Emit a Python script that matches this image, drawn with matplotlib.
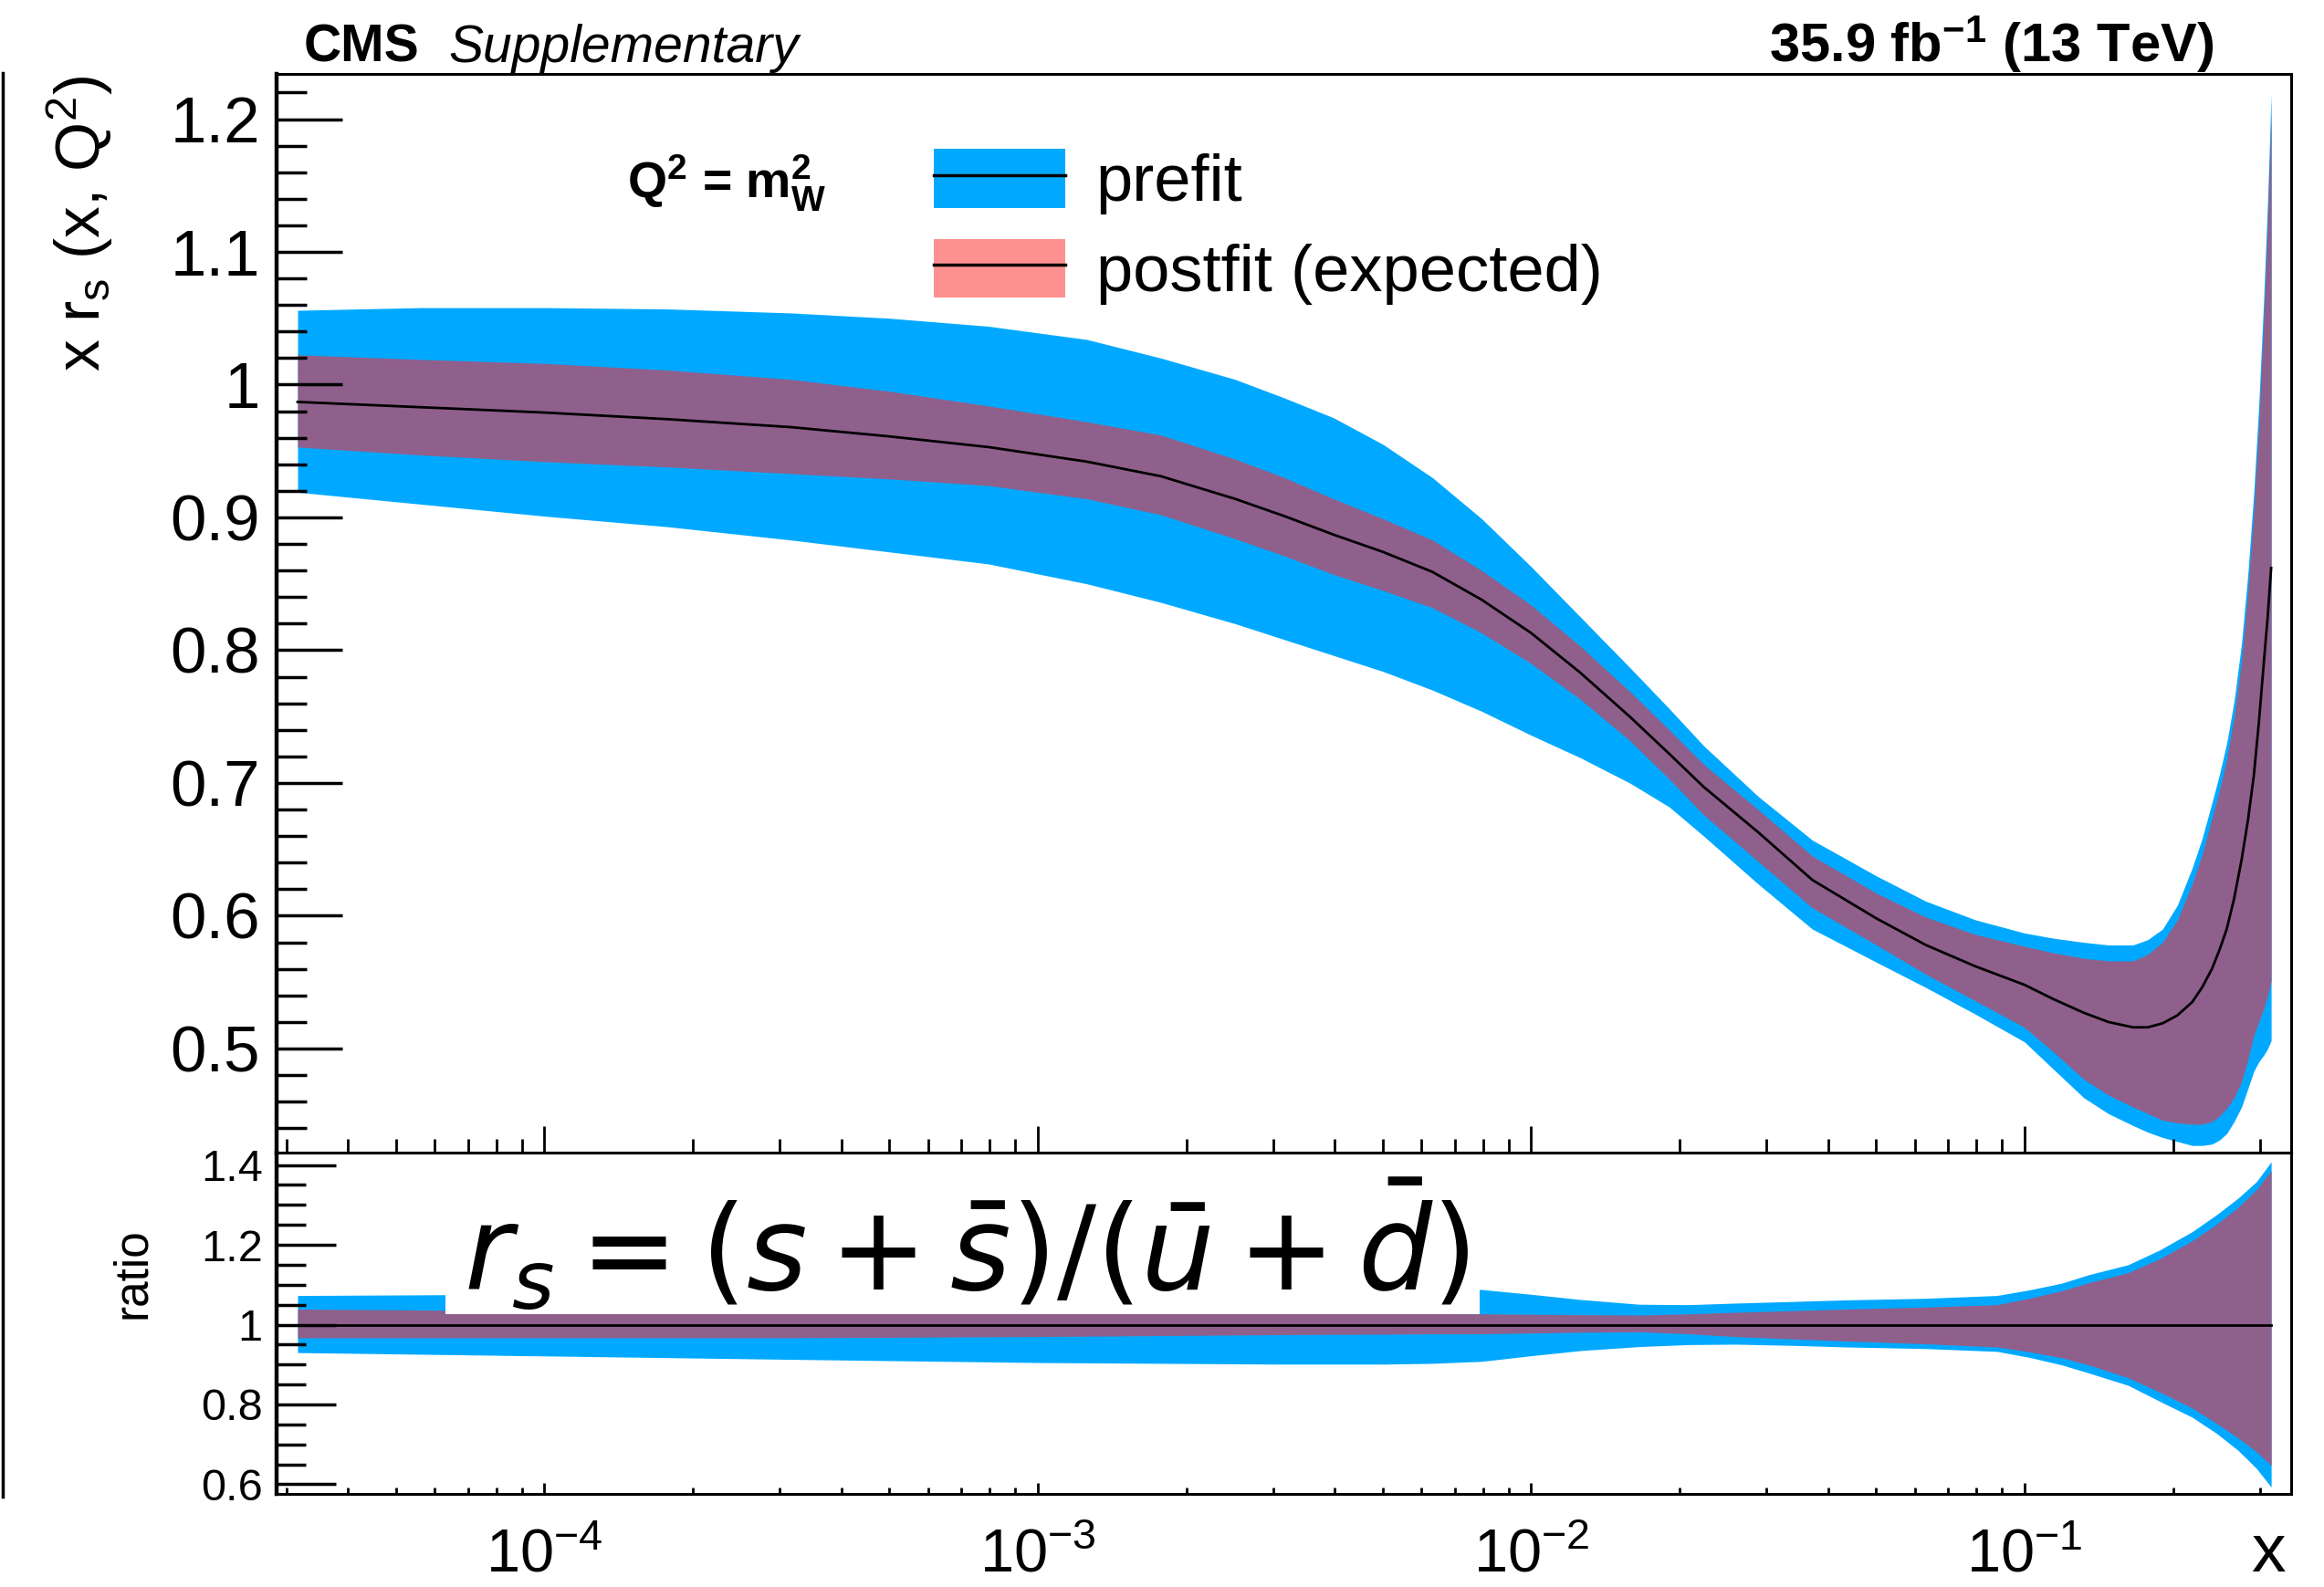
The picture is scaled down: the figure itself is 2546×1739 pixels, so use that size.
import numpy as np
import matplotlib
matplotlib.use('Agg')
import matplotlib.pyplot as plt
from matplotlib.ticker import MultipleLocator, LogLocator, NullFormatter, FuncFormatter, LogFormatterSciNotation
from matplotlib.patches import Patch, Rectangle
from matplotlib.lines import Line2D

plt.rcParams['font.family'] = ['Liberation Sans', 'DejaVu Sans']
plt.rcParams['mathtext.fontset'] = 'custom'
plt.rcParams['mathtext.rm'] = 'Liberation Sans'
plt.rcParams['mathtext.it'] = 'Liberation Sans:italic'
plt.rcParams['mathtext.bf'] = 'Liberation Sans:bold'

# upper panel: x r_s(x, Q^2) (log10 x grid)
log_x = np.array([-4.5, -4.25, -4.0, -3.75, -3.5, -3.3, -3.1, -2.9, -2.75, -2.6, -2.5, -2.4, -2.3, -2.2,
                  -2.1, -2.0, -1.9, -1.8, -1.72, -1.65, -1.54, -1.43, -1.3, -1.2, -1.1, -1.0, -0.94,
                  -0.88, -0.83, -0.78, -0.75, -0.72, -0.69, -0.66, -0.64, -0.62, -0.605, -0.59, -0.575,
                  -0.56, -0.547, -0.535, -0.525, -0.515, -0.507, -0.5])
central = np.array([0.987, 0.983, 0.979, 0.974, 0.968, 0.961, 0.953, 0.942, 0.931, 0.914, 0.901, 0.887,
                    0.874, 0.859, 0.838, 0.813, 0.783, 0.750, 0.722, 0.697, 0.663, 0.627, 0.598, 0.578,
                    0.562, 0.548, 0.537, 0.527, 0.520, 0.516, 0.516, 0.519, 0.525, 0.535, 0.546, 0.560,
                    0.574, 0.590, 0.613, 0.642, 0.672, 0.706, 0.745, 0.790, 0.825, 0.862])
prefit_hi = np.array([1.056, 1.058, 1.058, 1.057, 1.054, 1.050, 1.044, 1.034, 1.020, 1.004, 0.990, 0.975,
                      0.955, 0.930, 0.899, 0.863, 0.825, 0.787, 0.756, 0.728, 0.690, 0.657, 0.630, 0.611,
                      0.597, 0.587, 0.583, 0.580, 0.578, 0.578, 0.582, 0.590, 0.608, 0.636, 0.658, 0.685,
                      0.706, 0.730, 0.762, 0.805, 0.858, 0.920, 0.985, 1.065, 1.140, 1.219])
postfit_hi = np.array([1.0225, 1.019, 1.016, 1.011, 1.004, 0.995, 0.984, 0.972, 0.962, 0.944, 0.930, 0.914,
                       0.899, 0.883, 0.860, 0.834, 0.803, 0.769, 0.740, 0.714, 0.680, 0.645, 0.617, 0.599,
                       0.586, 0.577, 0.572, 0.568, 0.566, 0.566, 0.571, 0.580, 0.597, 0.624, 0.646, 0.673,
                       0.694, 0.718, 0.750, 0.792, 0.845, 0.906, 0.970, 1.050, 1.125, 1.205])
postfit_lo = np.array([0.953, 0.947, 0.942, 0.938, 0.933, 0.929, 0.924, 0.914, 0.902, 0.884, 0.871, 0.857,
                       0.845, 0.832, 0.813, 0.790, 0.763, 0.732, 0.703, 0.676, 0.641, 0.606, 0.578, 0.556,
                       0.536, 0.516, 0.497, 0.477, 0.465, 0.456, 0.451, 0.446, 0.444, 0.443, 0.443, 0.445,
                       0.449, 0.455, 0.463, 0.475, 0.492, 0.510, 0.520, 0.530, 0.540, 0.551])
prefit_lo = np.array([0.919, 0.910, 0.901, 0.893, 0.883, 0.874, 0.865, 0.850, 0.836, 0.820, 0.808, 0.796,
                      0.784, 0.770, 0.754, 0.736, 0.719, 0.700, 0.682, 0.660, 0.624, 0.590, 0.565, 0.546,
                      0.526, 0.505, 0.484, 0.463, 0.451, 0.442, 0.437, 0.433, 0.430, 0.427, 0.427, 0.428,
                      0.431, 0.436, 0.445, 0.456, 0.470, 0.483, 0.490, 0.495, 0.500, 0.506])

# lower panel: ratio to prefit central value
r_log_x = np.array([-4.5, -4.2, -3.5, -3.0, -2.5, -2.3, -2.2, -2.1, -2.0, -1.9, -1.78, -1.68, -1.585,
                    -1.47, -1.36, -1.2, -1.056, -0.99, -0.924, -0.87, -0.79, -0.726, -0.66, -0.61,
                    -0.567, -0.53, -0.5])
r_prefit_hi = np.array([1.073, 1.075, 1.089, 1.095, 1.097, 1.094, 1.090, 1.088, 1.076, 1.063, 1.051, 1.050,
                        1.054, 1.058, 1.062, 1.066, 1.073, 1.087, 1.104, 1.125, 1.150, 1.187, 1.233, 1.276,
                        1.317, 1.358, 1.408])
r_postfit_hi = np.array([1.039, 1.036, 1.037, 1.033, 1.030, 1.029, 1.028, 1.027, 1.026, 1.025, 1.024, 1.027,
                         1.031, 1.035, 1.039, 1.044, 1.050, 1.066, 1.085, 1.105, 1.130, 1.165, 1.210, 1.252,
                         1.294, 1.338, 1.386])
r_postfit_lo = np.array([0.967, 0.967, 0.967, 0.970, 0.975, 0.976, 0.977, 0.977, 0.979, 0.981, 0.982, 0.977,
                         0.970, 0.964, 0.959, 0.952, 0.944, 0.932, 0.917, 0.899, 0.867, 0.831, 0.791, 0.752,
                         0.716, 0.682, 0.647])
r_prefit_lo = np.array([0.930, 0.925, 0.913, 0.905, 0.901, 0.901, 0.903, 0.908, 0.922, 0.935, 0.945, 0.950,
                        0.951, 0.948, 0.944, 0.940, 0.933, 0.918, 0.899, 0.879, 0.848, 0.808, 0.768, 0.727,
                        0.685, 0.640, 0.593])
r_central = np.interp(r_log_x, log_x, central) / np.interp(r_log_x, log_x, central)

blue = '#00A9FF'
purple = '#8F608C'
pink = '#FF9090'

x = 10 ** log_x
rx = 10 ** r_log_x

fig = plt.figure(figsize=(25.46, 17.39), dpi=100)
ax = fig.add_axes([0.1190, 0.2737, 0.9859 - 0.1190, 0.9534 - 0.2737])
axr = fig.add_axes([0.1190, 0.0587, 0.9859 - 0.1190, 0.2737 - 0.0587], sharex=ax)

ax.fill_between(x, prefit_lo, prefit_hi, color=blue, lw=0)
ax.fill_between(x, postfit_lo, postfit_hi, color=purple, lw=0)
ax.plot(x, central, color='black', lw=2)

axr.fill_between(rx, r_prefit_lo, r_prefit_hi, color=blue, lw=0)
axr.fill_between(rx, r_postfit_lo, r_postfit_hi, color=purple, lw=0)
axr.plot(rx, r_central, color='black', lw=2)

ax.set_xscale('log')
ax.set_xlim(10 ** -4.5426, 10 ** -0.4593)
ax.set_ylim(0.4216, 1.234)
axr.set_ylim(0.576, 1.431)

fmt = FuncFormatter(lambda v, _: f'{v:g}')
ax.yaxis.set_major_locator(MultipleLocator(0.1))
ax.yaxis.set_minor_locator(MultipleLocator(0.02))
ax.yaxis.set_major_formatter(fmt)
axr.yaxis.set_major_locator(MultipleLocator(0.2))
axr.yaxis.set_minor_locator(MultipleLocator(0.05))
axr.yaxis.set_major_formatter(fmt)

for a in (ax, axr):
    a.xaxis.set_major_locator(LogLocator(base=10))
    a.xaxis.set_minor_locator(LogLocator(base=10, subs=np.arange(2, 10)))
    a.xaxis.set_minor_formatter(NullFormatter())
    for s in a.spines.values():
        s.set_linewidth(2.2)
    a.spines['left'].set_linewidth(3.2)

ax.tick_params(axis='x', which='both', direction='in', top=False, bottom=True, labelbottom=False)
ax.tick_params(axis='x', which='major', length=21, width=2)
ax.tick_params(axis='x', which='minor', length=11, width=2)
ax.tick_params(axis='y', which='both', direction='in', left=True, right=False, labelsize=51, pad=13)
ax.tick_params(axis='y', which='major', length=52, width=2.5)
ax.tick_params(axis='y', which='minor', length=24, width=2.5)

axr.xaxis.set_major_formatter(LogFormatterSciNotation())
axr.tick_params(axis='x', which='both', direction='in', top=False, bottom=True, labelsize=48, pad=27)
axr.tick_params(axis='x', which='major', length=9, width=2)
axr.tick_params(axis='x', which='minor', length=5, width=2)
axr.tick_params(axis='y', which='both', direction='in', left=True, right=False, labelsize=35, pad=11)
axr.tick_params(axis='y', which='major', length=47, width=2.5)
axr.tick_params(axis='y', which='minor', length=23, width=2.5)

# axis titles and header
fig.text(0.0346, 0.9523, r'x r$_\mathrm{s}$ (x, Q$^2$)', rotation=90, ha='center', va='top', fontsize=50)
fig.text(0.0573, 0.1978, 'ratio', rotation=90, ha='center', va='center', fontsize=37)
fig.text(2504 / 2546, 1 - 1722 / 1739, 'x', ha='right', va='baseline', fontsize=54)
fig.text(333 / 2546, 1 - 68 / 1739, 'CMS', fontweight='bold', fontsize=41, va='baseline')
fig.text(491 / 2546, 1 - 68 / 1739, 'Supplementary', fontstyle='italic', fontsize=41, va='baseline')
fig.text(2425 / 2546, 1 - 68 / 1739, r'35.9 fb$^{\mathbf{-1}}$ (13 TeV)', fontweight='bold',
         fontsize=43, ha='right', va='baseline')
fig.text(687 / 2546, 1 - 217 / 1739, r'$\mathbf{Q^2}$ = $\mathbf{m_W^2}$', fontweight='bold',
         fontsize=40, va='baseline')

handles = [(Patch(color=blue, lw=0), Line2D([], [], color='black', lw=2.5)),
           (Patch(color=pink, lw=0), Line2D([], [], color='black', lw=2.5))]
ax.legend(handles, ['prefit', 'postfit (expected)'], loc='upper left',
          bbox_to_anchor=(1023 / 2546, 1 - 163 / 1739), bbox_transform=fig.transFigure,
          frameon=False, fontsize=52, handlelength=2.0, handleheight=1.0,
          handletextpad=0.46, labelspacing=0.37, borderpad=0, borderaxespad=0)

# pasted formula box over the ratio panel
fig.add_artist(Rectangle((488 / 2546, 1 - 1440 / 1739), (1621 - 488) / 2546, (1440 - 1295) / 1739,
                         transform=fig.transFigure, facecolor='white', edgecolor='none', zorder=5))
fig.text(508 / 2546, 1 - 1366 / 1739, r'$r_s = (s + \bar{s})/(\bar{u} + \bar{d})$',
         math_fontfamily='dejavusans', fontsize=92, va='center', ha='left', zorder=6)

# stray frame line at the left edge
fig.add_artist(Line2D([3 / 2546, 3 / 2546], [1 - 80 / 1739, 1 - 1640 / 1739],
                      transform=fig.transFigure, color='black', lw=2.5))

fig.savefig('out.png', dpi=100)
